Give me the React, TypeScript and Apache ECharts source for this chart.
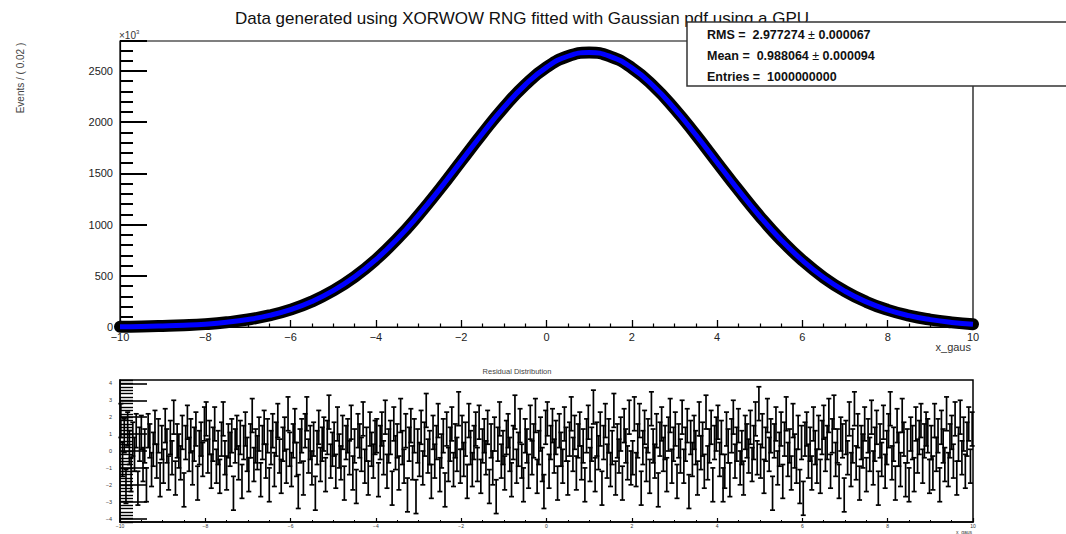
import React, { useEffect, useRef } from "react";
import * as echarts from "echarts";

const FONT = "'Liberation Sans', Arial, Helvetica, sans-serif";

const chartTitle = "Data generated using XORWOW RNG fitted with Gaussian pdf using a GPU";
const yAxisTitle = "Events / ( 0.02 )";
const xAxisTitle = "x_gaus";
const residualTitle = "Residual Distribution";
const yScaleNote = "×10";

// main histogram (Events, in units of 10^3) sampled every 0.5 in x_gaus
const xSamples = [
  -10, -9.5, -9, -8.5, -8, -7.5, -7, -6.5, -6, -5.5, -5, -4.5, -4, -3.5, -3, -2.5, -2, -1.5, -1, -0.5,
  0, 0.5, 1, 1.5, 2, 2.5, 3, 3.5, 4, 4.5, 5, 5.5, 6, 6.5, 7, 7.5, 8, 8.5, 9, 9.5, 10,
];
const eventCounts = [
  3, 5, 10, 17, 28, 46, 73, 113, 170, 249, 355, 490, 658, 860, 1093, 1349, 1620, 1890, 2144, 2365,
  2536, 2644, 2680, 2641, 2530, 2356, 2133, 1877, 1606, 1337, 1081, 850, 650, 483, 349, 245, 167, 111, 72, 45, 27,
];
const gaussFit = [
  3, 5, 10, 17, 28, 46, 73, 113, 170, 249, 355, 490, 658, 860, 1093, 1349, 1620, 1890, 2144, 2365,
  2536, 2644, 2680, 2641, 2530, 2356, 2133, 1877, 1606, 1337, 1081, 850, 650, 483, 349, 245, 167, 111, 72, 45, 27,
];

const mainYMax = 2793;
const mainYLabels = [0, 500, 1000, 1500, 2000, 2500];
const residYLabels = [-4, -3, -2, -1, 0, 1, 2, 3, 4];

const statNames = ["RMS", "Mean", "Entries"];
const statValues = ["2.977274", "0.988064", "1000000000"];
const statErrors = ["0.000067", "0.000094", ""];

// residual (pull) values, one per bin of width 0.04 from -10 to 10 (25 per unit)
const residBinWidth = 0.04;
const residualPulls = [
  1.8, -0.5, 0.9, -2.1, 1.3, 0.2, -1.4, 0.7, -0.2, 1.2, -2.2, 0.4, 1.1, -0.8, 0.3, -2.0, 1.2, 0.6, -1.1, 0.1, 1.4, -0.6, 0.9, -1.7, 0.5,
  -0.9, 1.5, 0.3, -1.3, 0.8, -0.4, 2.0, -1.6, 0.6, 0.0, -0.7, 1.1, -2.3, 0.5, 1.7, -0.2, 0.9, -1.0, 0.4, 1.3, -1.9, 0.2, 0.7, -0.5, 1.6,
  1.9, -0.3, 0.8, -1.2, 0.4, 1.6, -0.9, 0.2, -1.5, 0.7, 1.9, -0.4, -1.3, 0.6, 0.1, 0.9, -2.5, 0.3, 1.1, -0.7, 0.8, -1.8, 0.5, 1.3, -0.2,
  -1.4, 0.6, 2.1, -0.8, 0.3, -0.1, 1.0, -1.7, 0.5, 1.4, -0.6, 0.9, -2.0, 0.2, 1.2, -1.1, 0.7, 1.8, -0.3, -1.5, 0.4, 1.0, -0.9, 2.2, 0.1,
  -1.1, 0.6, 1.5, -0.5, -2.4, 0.3, 0.9, -1.6, 1.2, 2.2, -0.3, 0.5, -1.0, 0.7, -2.5, 0.2, 1.4, -0.8, 0.4, 1.0, -1.4, 0.8, 2.3, -0.6, 0.1,
  0.7, -1.2, 1.6, 0.0, -0.7, 1.1, -1.9, 0.5, 0.9, -0.4, 1.7, -1.3, 0.3, -2.1, 1.2, 0.6, -0.2, 1.9, -0.9, 0.4, -1.6, 1.3, 0.1, -0.6, 0.8,
  0.9, -1.7, 0.5, 1.3, -0.4, 2.0, -1.2, 0.3, 0.8, -2.2, 1.6, -0.1, 0.6, -1.3, 2.1, 0.2, -0.9, 1.2, -2.6, 0.4, 1.5, -0.7, 0.9, -2.7, 0.3,
  -0.5, 1.4, -1.0, 0.7, 2.4, -0.3, 0.2, -1.8, 1.1, -0.6, 0.5, 1.8, -1.4, 0.0, 0.9, -2.3, 1.3, -0.8, 0.4, 1.6, -1.1, 0.6, -0.2, 2.5, -0.9,
  1.1, -0.5, 0.7, -1.8, 1.8, 0.2, -1.1, 0.5, 1.3, -0.8, 1.7, -1.5, 0.3, 0.9, -0.4, 1.4, -2.1, 0.6, -1.0, 1.0, -2.7, 0.4, 1.9, -0.6, 0.2,
  -1.3, 0.8, 1.2, -0.2, -1.7, 0.5, 2.3, -0.9, 0.1, 1.5, -0.6, -2.0, 0.9, 0.3, -1.2, 1.7, -0.4, 0.6, 2.1, -1.5, 0.2, 1.0, -0.8, -2.4, 1.4,
  1.9, -1.2, 0.5, 1.5, -0.3, 0.8, -1.9, 1.2, 0.1, -0.9, 1.6, 0.4, -1.6, 0.7, 2.2, -0.2, 1.1, -1.3, 0.6, 1.3, -0.7, 0.3, -2.0, 0.9, 1.7,
  -0.8, 0.4, 2.6, -1.4, 0.7, -0.1, 1.3, -2.2, 0.5, 1.8, -0.6, 0.9, -1.1, 0.2, 2.4, -1.6, 0.6, -0.3, 1.0, -1.9, 1.5, 0.3, -0.7, 2.0, -1.0,
  -0.4, 2.2, -1.1, 0.6, 1.8, -2.2, 0.2, 1.4, -0.8, 0.9, -1.5, 2.5, 0.3, -0.6, 1.2, -2.3, 0.7, 1.6, -0.2, 0.5, -1.4, 1.0, 2.1, -0.9, 0.4,
  1.3, -1.8, 0.6, -0.3, 2.0, -0.9, 0.4, 1.5, -2.4, 0.8, -0.5, 1.1, 0.2, -1.6, 1.9, -0.1, 0.7, -1.2, 2.3, -0.7, 0.3, 1.4, -2.0, 0.5, 1.0,
  1.7, -0.5, 0.8, -2.0, -1.2, 1.3, 0.3, -1.7, 0.9, 2.0, -0.6, 0.4, 1.5, -1.0, 0.2, -1.6, 1.1, 0.6, -0.3, 1.4, -0.8, 0.5, 1.9, -0.4, 2.8,
  -0.6, 1.2, -1.5, 0.4, 2.1, -0.2, 0.9, -2.5, 0.6, 1.6, -1.0, 0.1, 1.3, -1.8, 0.7, 2.2, -0.5, 0.3, -1.3, 1.8, 0.0, -0.9, 1.1, -2.1, 0.5,
  -2.8, 0.7, 1.3, -0.6, 0.4, -1.3, 1.6, 0.2, -0.9, 1.1, -1.5, 0.8, 1.7, -0.2, 0.5, 2.1, -1.2, 0.9, 2.3, -0.5, 0.3, -1.8, 1.0, 0.6, -2.6,
  0.8, -0.4, 1.9, -1.1, 0.3, 2.5, -0.7, 1.2, -1.9, 0.5, 0.0, 1.6, -1.4, 0.9, -0.2, 2.0, -1.0, 0.4, 1.4, -2.2, 0.6, -0.5, 1.7, -1.2, 0.2,
  1.2, 2.5, -0.7, 0.4, -1.9, 1.5, 0.1, -1.1, 2.1, 0.7, -1.7, 0.3, -2.0, 1.0, 0.5, -1.4, 1.6, -0.3, 0.8, 1.8, -0.9, 0.6, 1.3, 0.9, -1.5,
  0.5, -1.3, 1.8, -0.2, 0.9, -2.0, 1.4, 0.3, -0.8, 2.2, -1.1, 0.6, 1.1, -0.6, 1.9, -1.6, 0.4, 2.0, -0.4, 1.0, -1.2, 0.7, 1.6, -0.9, 1.3,
];

const minusFmt = (v: number) => (v < 0 ? "\u2212" + Math.abs(v) : String(v));
const noZero = { show: true, onZero: false };

function buildOption() {
  const mainCounts = xSamples.map((x, i) => [x, eventCounts[i]]);
  const mainFit = xSamples.map((x, i) => [x, gaussFit[i]]);
  const residData = residualPulls.map((p, i) => [-10 + (i + 0.5) * residBinWidth, p]);

  const statTexts = statNames.map((name, i) => ({
    type: "text",
    x: 707,
    y: [34.5, 55.5, 77][i],
    z: 11,
    style: {
      text: statErrors[i]
        ? `{b|${name} =  ${statValues[i]} }{n|±}{b| ${statErrors[i]}}`
        : `{b|${name} =  ${statValues[i]}}`,
      verticalAlign: "middle",
      rich: {
        b: { fontFamily: FONT, fontSize: 12.5, fontWeight: "bold", fill: "#111" },
        n: { fontFamily: FONT, fontSize: 12.5, fontWeight: "normal", fill: "#111" },
      },
    },
  }));

  return {
    animation: false,
    backgroundColor: "#ffffff",
    textStyle: { fontFamily: FONT },
    grid: [
      { left: 120, top: 41, width: 853, height: 286, show: true, borderColor: "#000", borderWidth: 1.2, backgroundColor: "transparent" },
      { left: 120, top: 380, width: 853, height: 142, show: true, borderColor: "#000", borderWidth: 1.5, backgroundColor: "transparent" },
    ],
    xAxis: [
      {
        type: "value", gridIndex: 0, min: -10, max: 10, interval: 2,
        axisLine: { ...noZero, lineStyle: { color: "#000", width: 1.2 } },
        axisTick: { show: true, inside: true, length: 7, lineStyle: { color: "#000", width: 1.3 } },
        minorTick: { show: true, splitNumber: 4, length: 3.5, lineStyle: { color: "#000", width: 1.2 } },
        axisLabel: { fontSize: 11, color: "#222", margin: 4, formatter: minusFmt, fontFamily: FONT },
        splitLine: { show: false },
      },
      {
        type: "value", gridIndex: 1, min: -10, max: 10, interval: 2,
        axisLine: { ...noZero, lineStyle: { color: "#000", width: 1.5 } },
        axisTick: { show: true, inside: true, length: 4, lineStyle: { color: "#000", width: 1.2 } },
        minorTick: { show: true, splitNumber: 4, length: 2, lineStyle: { color: "#000", width: 1 } },
        axisLabel: { fontSize: 5, color: "#333", margin: 1, formatter: minusFmt, fontFamily: FONT },
        splitLine: { show: false },
      },
    ],
    yAxis: [
      {
        type: "value", gridIndex: 0, min: 0, max: mainYMax, interval: 500, position: "left",
        axisLine: { ...noZero, lineStyle: { color: "#000", width: 1.2 } },
        axisTick: { show: true, inside: true, length: 27, lineStyle: { color: "#000", width: 2 } },
        axisLabel: {
          fontSize: 11, color: "#222", margin: 7, fontFamily: FONT,
          formatter: (v: number) => (mainYLabels.includes(v) ? String(v) : ""),
        },
        splitLine: { show: false },
      },
      {
        type: "value", gridIndex: 0, min: 0, max: mainYMax, interval: 100, position: "left",
        axisLine: { show: false, onZero: false },
        axisTick: { show: true, inside: true, length: 13, lineStyle: { color: "#000", width: 2 } },
        axisLabel: { show: false },
        splitLine: { show: false },
      },
      {
        type: "value", gridIndex: 1, min: -4.2, max: 4.2, position: "left",
        axisLine: { ...noZero, lineStyle: { color: "#000", width: 1.5 } },
        axisTick: { show: true, inside: true, length: 27, customValues: residYLabels, lineStyle: { color: "#000", width: 1.6 } },
        axisLabel: { fontSize: 5.5, color: "#333", margin: 8, customValues: residYLabels, formatter: minusFmt, fontFamily: FONT },
        splitLine: { show: false },
      },
      {
        type: "value", gridIndex: 1, min: -4.2, max: 4.2, interval: 0.2, position: "left",
        axisLine: { show: false, onZero: false },
        axisTick: { show: true, inside: true, length: 13, lineStyle: { color: "#000", width: 1.4 } },
        axisLabel: { show: false },
        splitLine: { show: false },
      },
    ],
    series: [
      {
        type: "line", xAxisIndex: 0, yAxisIndex: 0, data: mainCounts, smooth: true, showSymbol: false, clip: false,
        lineStyle: { color: "#000", width: 12, cap: "round", join: "round" }, z: 3,
      },
      {
        type: "line", xAxisIndex: 0, yAxisIndex: 0, data: mainFit, smooth: true, showSymbol: false, clip: false,
        lineStyle: { color: "#0000ff", width: 5, cap: "butt", join: "round" }, z: 4,
      },
      {
        type: "custom", xAxisIndex: 1, yAxisIndex: 2, data: residData, encode: { x: 0, y: 1 }, z: 3,
        renderItem: (params: any, api: any) => {
          const x = api.value(0);
          const y = api.value(1);
          const top = api.coord([x, y + 1]);
          const bot = api.coord([x, y - 1]);
          const cw = 2.5;
          const st = { stroke: "#000", lineWidth: 1.7 };
          return {
            type: "group",
            children: [
              { type: "line", shape: { x1: top[0], y1: top[1], x2: bot[0], y2: bot[1] }, style: st },
              { type: "line", shape: { x1: top[0] - cw, y1: top[1], x2: top[0] + cw, y2: top[1] }, style: st },
              { type: "line", shape: { x1: bot[0] - cw, y1: bot[1], x2: bot[0] + cw, y2: bot[1] }, style: st },
            ],
          };
        },
      },
    ],
    graphic: [
      {
        type: "text", x: 522, y: 18,
        style: { text: chartTitle, fontFamily: FONT, fontSize: 17, fill: "#111", align: "center", verticalAlign: "middle" },
      },
      {
        type: "text", x: 20, y: 78, rotation: Math.PI / 2,
        style: { text: yAxisTitle, fontFamily: FONT, fontSize: 10, fill: "#444", align: "center", verticalAlign: "middle" },
      },
      {
        type: "text", x: 119, y: 29,
        style: {
          text: `{a|${yScaleNote}}{s|3}`,
          rich: { a: { fontFamily: FONT, fontSize: 10, fill: "#333" }, s: { fontFamily: FONT, fontSize: 6, fill: "#333", verticalAlign: "top", padding: [0, 0, 6, 0] } },
        },
      },
      {
        type: "text", x: 971, y: 347,
        style: { text: xAxisTitle, fontFamily: FONT, fontSize: 11, fill: "#333", align: "right", verticalAlign: "middle" },
      },
      {
        type: "text", x: 517, y: 371,
        style: { text: residualTitle, fontFamily: FONT, fontSize: 7.5, fill: "#444", align: "center", verticalAlign: "middle" },
      },
      {
        type: "text", x: 972, y: 532,
        style: { text: xAxisTitle, fontFamily: FONT, fontSize: 5, fill: "#333", align: "right", verticalAlign: "middle" },
      },
      {
        type: "rect", shape: { x: 687, y: 22, width: 420, height: 64 }, z: 10,
        style: { fill: "#fff", stroke: "#333", lineWidth: 1.5 },
      },
      ...statTexts,
    ],
  };
}

export default function App() {
  const ref = useRef<HTMLDivElement>(null);
  useEffect(() => {
    if (!ref.current) return;
    const chart = echarts.init(ref.current, null, { renderer: "svg" });
    chart.setOption(buildOption() as any);
    return () => chart.dispose();
  }, []);
  return (
    <div
      ref={ref}
      style={{ position: "fixed", left: 0, top: 0, width: 1066, height: 534, background: "#fff" }}
    />
  );
}
